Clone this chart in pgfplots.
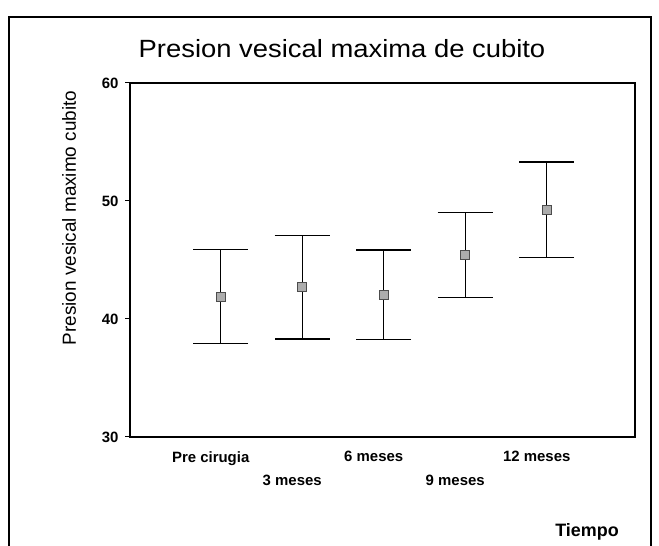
\documentclass[border=0pt]{standalone}
\usepackage{pgfplots}
\pgfplotsset{compat=1.18}
\usepackage{fontspec}
\setmainfont{Liberation Sans}

\begin{document}
\begin{tikzpicture}[x=1bp,y=1bp]
\useasboundingbox (0,0) rectangle (659,546);
% outer frame of the chart
\draw[line width=1.6bp] (9,-5) -- (9,529) -- (651,529) -- (651,-5);

\begin{axis}[
  at={(130bp,109bp)}, anchor=south west,
  scale only axis, width=505bp, height=354bp,
  xmin=-1.113, xmax=5.083,
  ymin=30, ymax=60,
  ytick={30,40,50,60},
  xtick={0,1,2,3,4},
  xticklabels={Pre cirugia, {\vphantom{X}\\3 meses}, 6 meses, {\vphantom{X}\\9 meses}, 12 meses},
  axis line style={line width=1.3bp},
  x tick style={draw=none},
  y tick style={line width=1bp, black},
  major tick length=5bp,
  tick align=outside,
  tick pos=left,
  /pgf/number format/assume math mode=true,
  yticklabel style={font=\fontsize{15}{18}\selectfont\bfseries, xshift=-3bp},
  xticklabel style={font=\fontsize{15}{24}\selectfont\bfseries, align=center, anchor=north, xshift=-10bp, yshift=-6bp},
  clip=false,
]
% group means with their confidence intervals
\addplot[
  only marks,
  mark=square*,
  mark size=4.5bp,
  mark options={fill=gray!65, draw=black!70, line width=0.9bp},
  error bars/.cd,
    y dir=both, y explicit,
    error mark=|,
    error bar style={line width=1bp, black},
    error mark options={line width=1.2bp, black, mark size=27.5bp},
] coordinates {
  (0, 41.90) +- (0, 4.00)
  (1, 42.70) +- (0, 4.40)
  (2, 42.05) +- (0, 3.80)
  (3, 45.40) +- (0, 3.60)
  (4, 49.25) +- (0, 4.05)
};
\end{axis}

\node[anchor=base, font=\fontsize{25}{30}\selectfont, xscale=1.1] at (342,488) {Presion vesical maxima de cubito};
\node[rotate=90, font=\fontsize{19}{22}\selectfont] at (69,328) {Presion vesical maximo cubito};
\node[anchor=base, font=\fontsize{18}{22}\selectfont\bfseries] at (587,9) {Tiempo};
\end{tikzpicture}
\end{document}
